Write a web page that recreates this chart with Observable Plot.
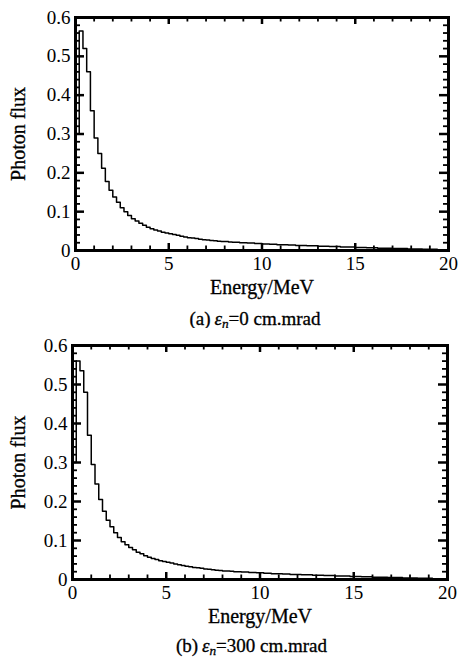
<!DOCTYPE html>
<html><head><meta charset="utf-8">
<script src="https://cdn.jsdelivr.net/npm/d3@7"></script>
<script src="https://cdn.jsdelivr.net/npm/@observablehq/plot@0.6"></script>
<style>
body{margin:0;background:#fff;}
#wrap{position:relative;width:460px;height:657px;overflow:hidden;background:#fff;}
.cap{position:absolute;left:0;font-family:"Liberation Serif",serif;font-size:19px;line-height:19px;text-align:center;color:#000;white-space:nowrap;-webkit-text-stroke:0.3px #000;}
.cap sub{font-size:0.7em;line-height:0;vertical-align:-0.25em;}
#pa{position:absolute;left:0;top:0}
#pb{position:absolute;left:0;top:328px}
#capA{top:309px;padding-left:50px;width:410px;}
#capB{top:636px;padding-left:43px;width:417px;}
</style></head><body>
<div id="wrap"><div id="pa"></div><div id="capA" class="cap">(a)&thinsp;<i>ε</i><sub><i>n</i></sub>=0 cm.mrad</div><div id="pb"></div><div id="capB" class="cap">(b)&thinsp;<i>ε</i><sub><i>n</i></sub>=300 cm.mrad</div></div>
<script>
// Bin start energies (MeV), bin width 0.2 MeV, last bin ends at 20
const binStartMeV = [
  0.0,0.2,0.4,0.6,0.8,1.0,1.2,1.4,1.6,1.8,
  2.0,2.2,2.4,2.6,2.8,3.0,3.2,3.4,3.6,3.8,
  4.0,4.2,4.4,4.6,4.8,5.0,5.2,5.4,5.6,5.8,
  6.0,6.2,6.4,6.6,6.8,7.0,7.2,7.4,7.6,7.8,
  8.0,8.2,8.4,8.6,8.8,9.0,9.2,9.4,9.6,9.8,
  10.0,10.2,10.4,10.6,10.8,11.0,11.2,11.4,11.6,11.8,
  12.0,12.2,12.4,12.6,12.8,13.0,13.2,13.4,13.6,13.8,
  14.0,14.2,14.4,14.6,14.8,15.0,15.2,15.4,15.6,15.8,
  16.0,16.2,16.4,16.6,16.8,17.0,17.2,17.4,17.6,17.8,
  18.0,18.2,18.4,18.6,18.8,19.0,19.2,19.4,19.6,19.8
];
const lastEdgeMeV = 20;

// (a) emittance 0 cm.mrad
const fluxA = [
  0.30,0.565,0.52,0.46,0.36,0.29,0.25,0.212,0.178,0.155,
  0.138,0.124,0.110,0.100,0.090,0.082,0.076,0.070,0.065,0.060,
  0.056,0.053,0.050,0.047,0.045,0.043,0.041,0.039,0.037,0.035,
  0.033,0.032,0.031,0.029,0.028,0.027,0.026,0.025,0.024,0.023,
  0.023,0.022,0.021,0.021,0.020,0.020,0.019,0.019,0.018,0.018,
  0.017,0.017,0.016,0.016,0.015,0.015,0.015,0.014,0.014,0.013,
  0.013,0.013,0.012,0.012,0.012,0.011,0.011,0.011,0.010,0.010,
  0.010,0.009,0.009,0.009,0.009,0.008,0.008,0.008,0.007,0.007,
  0.007,0.006,0.006,0.006,0.006,0.005,0.005,0.005,0.005,0.004,
  0.004,0.004,0.004,0.003,0.003,0.003,0.003,0.002,0.002,0.002
];

// (b) emittance 300 cm.mrad
const fluxB = [
  0.30,0.56,0.535,0.48,0.37,0.295,0.245,0.205,0.175,0.152,
  0.135,0.120,0.108,0.097,0.089,0.082,0.076,0.070,0.066,0.061,
  0.057,0.054,0.051,0.048,0.046,0.044,0.042,0.040,0.038,0.036,
  0.034,0.033,0.031,0.030,0.029,0.027,0.026,0.025,0.024,0.023,
  0.022,0.022,0.021,0.020,0.020,0.019,0.019,0.018,0.018,0.017,
  0.017,0.016,0.016,0.015,0.015,0.015,0.014,0.014,0.013,0.013,
  0.013,0.012,0.012,0.012,0.011,0.011,0.011,0.010,0.010,0.010,
  0.009,0.009,0.009,0.009,0.008,0.008,0.008,0.007,0.007,0.007,
  0.006,0.006,0.006,0.006,0.005,0.005,0.005,0.005,0.004,0.004,
  0.004,0.004,0.003,0.003,0.003,0.003,0.002,0.002,0.002,0.002
];

const xMajor = [0, 5, 10, 15, 20];
const xMinor = [1,2,3,4,6,7,8,9,11,12,13,14,16,17,18,19];
const yMajor = [0, 0.1, 0.2, 0.3, 0.4, 0.5, 0.6];
const yMinor = [0.02,0.04,0.06,0.08,0.12,0.14,0.16,0.18,0.22,0.24,0.26,0.28,0.32,0.34,0.36,0.38,0.42,0.44,0.46,0.48,0.52,0.54,0.56,0.58];
const xTitle = "Energy/MeV";
const yTitle = "Photon flux";

const FONT = "Liberation Serif";

function panel(flux, ml, mr, h, titleDx) {
  const mt = 17, mb = 55;
  const iw = 460 - ml - mr, ih = h - mt - mb;
  const pts = [{e: 0, v: 0}];
  binStartMeV.forEach((e, i) => pts.push({e, v: flux[i]}));
  pts.push({e: lastEdgeMeV, v: flux[flux.length - 1]});
  const fmtY = d => d === 0 ? "0" : d.toFixed(1);
  // inward tick lengths given in pixels, converted to the other scale's units
  const dy = px => px / ih * 0.6;
  const dx = px => px / iw * 20;
  const C = "#000";
  const tb = (t, len, sw) => Plot.ruleX(t, {x: d => d, y1: 0, y2: dy(len), stroke: C, strokeWidth: sw});
  const tt = (t, len, sw) => Plot.ruleX(t, {x: d => d, y1: 0.6 - dy(len), y2: 0.6, stroke: C, strokeWidth: sw});
  const tl = (t, len, sw) => Plot.ruleY(t, {y: d => d, x1: 0, x2: dx(len), stroke: C, strokeWidth: sw});
  const tr = (t, len, sw) => Plot.ruleY(t, {y: d => d, x1: 20 - dx(len), x2: 20, stroke: C, strokeWidth: sw});
  const txt = {fontFamily: FONT, fill: "#000", stroke: "#000", strokeWidth: 0.3, strokeOpacity: 1, fillOpacity: 1};
  return Plot.plot({
    width: 460, height: h,
    marginTop: mt, marginBottom: mb, marginLeft: ml, marginRight: mr,
    style: {fontFamily: FONT, fontSize: "19px", color: "#000", background: "#fff"},
    x: {domain: [0, 20]},
    y: {domain: [0, 0.6]},
    marks: [
      Plot.lineY(pts, {x: "e", y: "v", curve: "step-after", stroke: "#000", strokeWidth: 1.5}),
      tb(xMajor, 7, 2.5), tb(xMinor, 4.5, 1.8),
      tt(xMajor, 7, 2.5), tt(xMinor, 4.5, 1.8),
      tl(yMajor, 9, 2.5), tl(yMinor, 5, 1.8),
      tr(yMajor, 9, 2.5), tr(yMinor, 5, 1.8),
      Plot.axisX({ticks: xMajor, anchor: "bottom", tickSize: 0, tickPadding: 6, label: null, fontSize: 19, ...txt, tickFormat: d => String(d)}),
      Plot.axisY({ticks: yMajor, anchor: "left", tickSize: 0, tickPadding: 5, label: null, fontSize: 19, ...txt, tickFormat: fmtY}),
      Plot.frame({stroke: "#000", strokeWidth: 3}),
      Plot.text([xTitle], {frameAnchor: "bottom", dy: 37, lineAnchor: "middle", textAnchor: "middle", fontSize: 20, ...txt}),
      Plot.text([yTitle], {frameAnchor: "left", dx: titleDx, rotate: -90, textAnchor: "middle", lineAnchor: "middle", fontSize: 20, ...txt})
    ]
  });
}

document.getElementById("pa").append(panel(fluxA, 75, 12, 305, -57));
document.getElementById("pb").append(panel(fluxB, 72, 13, 306, -54));
</script>
</body></html>
